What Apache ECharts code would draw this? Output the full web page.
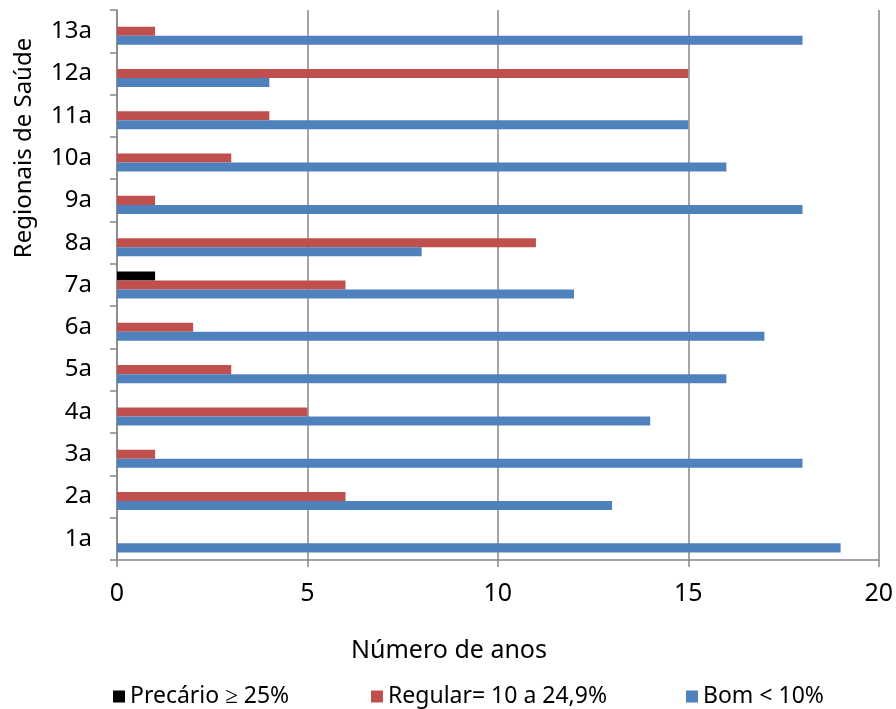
<!DOCTYPE html>
<html>
<head>
<meta charset="utf-8">
<script src="https://cdn.jsdelivr.net/npm/echarts@6/dist/echarts.min.js"></script>
<style>
  html, body { margin: 0; padding: 0; background: #fff; }
  #main { width: 896px; height: 709px; }
</style>
</head>
<body>
<div id="main"></div>
<script>
// regionais, de baixo para cima
var regionais = ['1a', '2a', '3a', '4a', '5a', '6a', '7a', '8a', '9a', '10a', '11a', '12a', '13a'];
var bom = [19, 13, 18, 14, 16, 17, 12, 8, 18, 16, 15, 4, 18];
var regular = [0, 6, 1, 5, 3, 2, 6, 11, 1, 3, 4, 15, 1];
var precario = [0, 0, 0, 0, 0, 0, 1, 0, 0, 0, 0, 0, 0];
var xTicks = [0, 5, 10, 15, 20];

var font = 'Noto Sans';
var grey = '#878787';

var chart = echarts.init(document.getElementById('main'));

// uma legenda por serie, para acertar a posicao de cada uma
var legendas = [
  { data: ['Precário ≥ 25%'], left: 108 },
  { data: ['Regular= 10 a 24,9%'], left: 366 },
  { data: ['Bom < 10%'], left: 681 }
].map(function (l) {
  l.top = 680;
  l.icon = 'rect';
  l.itemWidth = 12;
  l.itemHeight = 12;
  l.itemGap = 4;
  l.textStyle = { fontFamily: font, fontSize: 23, color: '#000' };
  return l;
});

var option = {
  animation: false,
  grid: { left: 117, right: 16, top: 10, bottom: 149 },
  legend: legendas,
  xAxis: {
    type: 'value',
    min: xTicks[0],
    max: xTicks[xTicks.length - 1],
    interval: 5,
    axisLine: { show: true, lineStyle: { color: grey, width: 1.5 } },
    axisTick: { show: true, length: 7, lineStyle: { color: grey, width: 1.5 } },
    splitLine: { show: true, lineStyle: { color: grey, width: 1.5 } },
    axisLabel: { fontFamily: font, fontSize: 25, color: '#000', margin: 21 }
  },
  yAxis: {
    type: 'category',
    data: regionais,
    axisLine: { show: true, lineStyle: { color: grey, width: 1.5 } },
    axisTick: { show: true, length: 7, lineStyle: { color: grey, width: 1.5 } },
    axisLabel: { fontFamily: font, fontSize: 24, color: '#000', margin: 25 }
  },
  graphic: [
    {
      type: 'text', x: 449, y: 651,
      style: { text: 'Número de anos', font: '25px "Noto Sans"', fill: '#000', align: 'center', verticalAlign: 'middle' }
    },
    {
      type: 'text', x: 24, y: 148, rotation: Math.PI / 2,
      style: { text: 'Regionais de Saúde', font: '24px "Noto Sans"', fill: '#000', align: 'center', verticalAlign: 'middle' }
    }
  ],
  series: [
    { name: 'Precário ≥ 25%', type: 'bar', data: precario, itemStyle: { color: '#000000' }, barGap: '0%', barCategoryGap: '36%' },
    { name: 'Regular= 10 a 24,9%', type: 'bar', data: regular, itemStyle: { color: '#C0504D' }, barGap: '0%', barCategoryGap: '36%' },
    { name: 'Bom < 10%', type: 'bar', data: bom, itemStyle: { color: '#4F81BD' }, barGap: '0%', barCategoryGap: '36%' }
  ]
};

chart.setOption(option);
</script>
</body>
</html>
